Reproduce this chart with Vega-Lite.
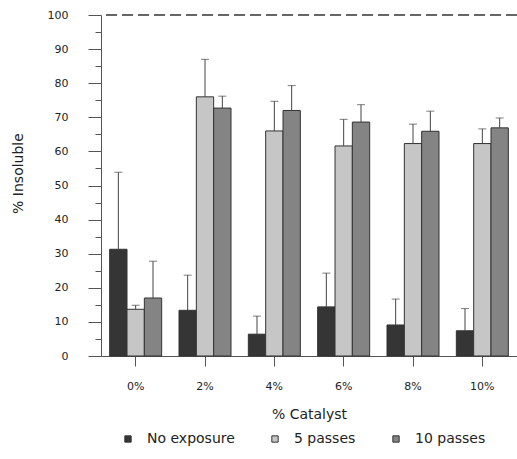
{
  "$schema": "https://vega.github.io/schema/vega-lite/v6.json",
  "autosize": "none",
  "width": 416,
  "height": 341,
  "padding": {"left": 101, "top": 15, "right": 0, "bottom": 103},
  "background": "white",
  "config": {
    "font": "DejaVu Sans",
    "view": {"stroke": null},
    "axis": {"labelColor": "#222", "titleColor": "#222", "labelFont": "DejaVu Sans", "titleFont": "DejaVu Sans", "titleFontWeight": "normal"}
  },
  "data": {
    "values": [
      {"catalyst": "0%", "exposure": "No exposure", "insoluble": 31.3, "upper": 53.9},
      {"catalyst": "0%", "exposure": "5 passes", "insoluble": 13.7, "upper": 14.9},
      {"catalyst": "0%", "exposure": "10 passes", "insoluble": 17.0, "upper": 27.8},
      {"catalyst": "2%", "exposure": "No exposure", "insoluble": 13.4, "upper": 23.7},
      {"catalyst": "2%", "exposure": "5 passes", "insoluble": 76.0, "upper": 87.0},
      {"catalyst": "2%", "exposure": "10 passes", "insoluble": 72.7, "upper": 76.2},
      {"catalyst": "4%", "exposure": "No exposure", "insoluble": 6.4, "upper": 11.7},
      {"catalyst": "4%", "exposure": "5 passes", "insoluble": 66.0, "upper": 74.7},
      {"catalyst": "4%", "exposure": "10 passes", "insoluble": 72.0, "upper": 79.3},
      {"catalyst": "6%", "exposure": "No exposure", "insoluble": 14.4, "upper": 24.3},
      {"catalyst": "6%", "exposure": "5 passes", "insoluble": 61.6, "upper": 69.4},
      {"catalyst": "6%", "exposure": "10 passes", "insoluble": 68.6, "upper": 73.7},
      {"catalyst": "8%", "exposure": "No exposure", "insoluble": 9.1, "upper": 16.7},
      {"catalyst": "8%", "exposure": "5 passes", "insoluble": 62.3, "upper": 68.0},
      {"catalyst": "8%", "exposure": "10 passes", "insoluble": 65.9, "upper": 71.8},
      {"catalyst": "10%", "exposure": "No exposure", "insoluble": 7.4, "upper": 13.9},
      {"catalyst": "10%", "exposure": "5 passes", "insoluble": 62.3, "upper": 66.6},
      {"catalyst": "10%", "exposure": "10 passes", "insoluble": 66.9, "upper": 69.8}
    ]
  },
  "resolve": {"axis": {"x": "independent", "y": "independent"}},
  "layer": [
    {
      "mark": {"type": "bar", "stroke": "#333", "strokeWidth": 1},
      "encoding": {
        "x": {
          "field": "catalyst",
          "type": "nominal",
          "sort": ["0%", "2%", "4%", "6%", "8%", "10%"],
          "scale": {"paddingInner": 0.25, "paddingOuter": 0.125},
          "axis": {
            "title": "% Catalyst",
            "titleFontSize": 14,
            "titlePadding": 16,
            "labelAngle": 0,
            "labelFontSize": 11,
            "labelPadding": 14,
            "tickSize": 10,
            "tickColor": "#555",
            "domainColor": "#555"
          }
        },
        "xOffset": {
          "field": "exposure",
          "type": "nominal",
          "sort": ["No exposure", "5 passes", "10 passes"],
          "scale": {"paddingInner": 0, "paddingOuter": 0}
        },
        "y": {
          "field": "insoluble",
          "type": "quantitative",
          "scale": {"domain": [0, 100], "nice": false},
          "axis": {
            "title": "% Insoluble",
            "titleFontSize": 14,
            "titleX": -83,
            "titleY": 158,
            "titleAlign": "center",
            "titleBaseline": "middle",
            "values": [0, 5, 10, 15, 20, 25, 30, 35, 40, 45, 50, 55, 60, 65, 70, 75, 80, 85, 90, 95, 100],
            "labelExpr": "datum.value % 10 === 0 ? datum.label : ''",
            "labelFontSize": 11,
            "labelPadding": 20,
            "tickSize": {"condition": {"test": "datum.value % 10 === 0", "value": 13}, "value": 6},
            "tickColor": "#555",
            "domainColor": "#555",
            "grid": false
          }
        },
        "fill": {
          "field": "exposure",
          "type": "nominal",
          "sort": ["No exposure", "5 passes", "10 passes"],
          "scale": {"domain": ["No exposure", "5 passes", "10 passes"], "range": ["#353535", "#c6c6c6", "#848484"]},
          "legend": {
            "orient": "none",
            "direction": "horizontal",
            "legendX": 20,
            "legendY": 417,
            "title": null,
            "symbolType": "square",
            "symbolSize": 40,
            "symbolStrokeColor": "#333",
            "symbolStrokeWidth": 1,
            "labelFontSize": 14,
            "labelColor": "#222",
            "labelOffset": 12,
            "columnPadding": 33,
            "padding": 0
          }
        }
      }
    },
    {
      "mark": {"type": "rule", "color": "#444", "strokeWidth": 1},
      "encoding": {
        "x": {"field": "catalyst", "type": "nominal", "sort": ["0%", "2%", "4%", "6%", "8%", "10%"], "axis": null},
        "xOffset": {"field": "exposure", "type": "nominal", "sort": ["No exposure", "5 passes", "10 passes"]},
        "y": {"field": "insoluble", "type": "quantitative", "axis": null},
        "y2": {"field": "upper"}
      }
    },
    {
      "mark": {"type": "tick", "color": "#444", "thickness": 1, "size": 8},
      "encoding": {
        "x": {"field": "catalyst", "type": "nominal", "sort": ["0%", "2%", "4%", "6%", "8%", "10%"], "axis": null},
        "xOffset": {"field": "exposure", "type": "nominal", "sort": ["No exposure", "5 passes", "10 passes"]},
        "y": {"field": "upper", "type": "quantitative", "axis": null}
      }
    },
    {
      "mark": {"type": "rule", "color": "#666", "strokeDash": [11, 5], "strokeWidth": 1.2},
      "encoding": {
        "y": {"datum": 100, "type": "quantitative", "axis": null}
      }
    }
  ]
}
